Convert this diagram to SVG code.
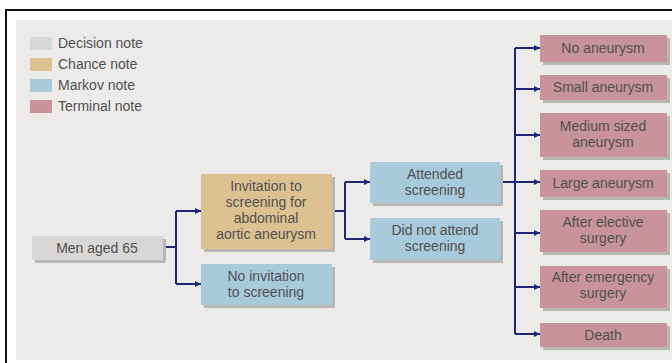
<svg xmlns="http://www.w3.org/2000/svg" width="672" height="363" viewBox="0 0 672 363">
<defs>
<style>
text{font-family:"Liberation Sans",Arial,sans-serif;font-size:14px;fill:#505050}
.c{text-anchor:middle}
.sh{fill:#b9b6b6}
.dec{fill:#d9d6d6}
.cha{fill:#dcc290}
.mar{fill:#a8cadb}
.ter{fill:#c8939c}
.ln{fill:none;stroke:#1f2676;stroke-width:2}
</style>
<marker id="ah" viewBox="0 0 10 10" refX="10" refY="5" markerWidth="8" markerHeight="6" markerUnits="userSpaceOnUse" orient="auto">
<path d="M0,0 L10,5 L0,10 z" fill="#1f2676"/>
</marker>
</defs>
<rect x="0" y="0" width="672" height="363" fill="#ffffff"/>
<path d="M6,363 V10 H672" fill="none" stroke="#111" stroke-width="2"/>
<rect x="16" y="20" width="656" height="340" fill="#edeaea"/>

<g id="legend">
<rect x="30" y="37" width="22" height="13" class="dec"/>
<text x="58" y="48">Decision note</text>
<rect x="30" y="58" width="22" height="13" class="cha"/>
<text x="58" y="69">Chance note</text>
<rect x="30" y="79" width="22" height="13" class="mar"/>
<text x="58" y="90">Markov note</text>
<rect x="30" y="100" width="22" height="13" class="ter"/>
<text x="58" y="111">Terminal note</text>
</g>

<g id="connectors">
<path class="ln" d="M163,247 H176 M176,211 V284"/>
<path class="ln" d="M176,211 H201" marker-end="url(#ah)"/>
<path class="ln" d="M176,284 H201" marker-end="url(#ah)"/>
<path class="ln" d="M332,211 H345 M345,182 V239"/>
<path class="ln" d="M345,182 H370" marker-end="url(#ah)"/>
<path class="ln" d="M345,239 H370" marker-end="url(#ah)"/>
<path class="ln" d="M500,182 H515 M515,48 V334"/>
<path class="ln" d="M515,48 H540" marker-end="url(#ah)"/>
<path class="ln" d="M515,89 H540" marker-end="url(#ah)"/>
<path class="ln" d="M515,135 H540" marker-end="url(#ah)"/>
<path class="ln" d="M515,182 H540" marker-end="url(#ah)"/>
<path class="ln" d="M515,233 H540" marker-end="url(#ah)"/>
<path class="ln" d="M515,287 H540" marker-end="url(#ah)"/>
<path class="ln" d="M515,334 H540" marker-end="url(#ah)"/>
</g>

<g id="men">
<rect x="35" y="239" width="131" height="24" class="sh"/>
<rect x="32" y="236" width="131" height="24" class="dec"/>
<text class="c" x="97" y="253">Men aged 65</text>
</g>
<g id="invitation">
<rect x="204" y="177" width="131" height="75" class="sh"/>
<rect x="201" y="174" width="131" height="75" class="cha"/>
<text class="c" x="266" y="191">Invitation to</text>
<text class="c" x="266" y="207">screening for</text>
<text class="c" x="266" y="223">abdominal</text>
<text class="c" x="266" y="239">aortic aneurysm</text>
</g>
<g id="noinvitation">
<rect x="204" y="267" width="131" height="41" class="sh"/>
<rect x="201" y="264" width="131" height="41" class="mar"/>
<text class="c" x="266" y="281">No invitation</text>
<text class="c" x="266" y="297">to screening</text>
</g>
<g id="attended">
<rect x="373" y="165" width="130" height="41" class="sh"/>
<rect x="370" y="162" width="130" height="41" class="mar"/>
<text class="c" x="435" y="179">Attended</text>
<text class="c" x="435" y="195">screening</text>
</g>
<g id="notattend">
<rect x="373" y="221" width="130" height="42" class="sh"/>
<rect x="370" y="218" width="130" height="42" class="mar"/>
<text class="c" x="435" y="235">Did not attend</text>
<text class="c" x="435" y="251">screening</text>
</g>
<g id="noaneurysm">
<rect x="543" y="38" width="127" height="27" class="sh"/>
<rect x="540" y="35" width="127" height="27" class="ter"/>
<text class="c" x="603" y="53">No aneurysm</text>
</g>
<g id="small">
<rect x="543" y="78" width="127" height="25" class="sh"/>
<rect x="540" y="75" width="127" height="25" class="ter"/>
<text class="c" x="603" y="92">Small aneurysm</text>
</g>
<g id="medium">
<rect x="543" y="116" width="127" height="44" class="sh"/>
<rect x="540" y="113" width="127" height="44" class="ter"/>
<text class="c" x="603" y="131">Medium sized</text>
<text class="c" x="603" y="147">aneurysm</text>
</g>
<g id="large">
<rect x="543" y="173" width="127" height="27" class="sh"/>
<rect x="540" y="170" width="127" height="27" class="ter"/>
<text class="c" x="603" y="188">Large aneurysm</text>
</g>
<g id="elective">
<rect x="543" y="213" width="127" height="42" class="sh"/>
<rect x="540" y="210" width="127" height="42" class="ter"/>
<text class="c" x="603" y="227">After elective</text>
<text class="c" x="603" y="243">surgery</text>
</g>
<g id="emergency">
<rect x="543" y="269" width="127" height="42" class="sh"/>
<rect x="540" y="266" width="127" height="42" class="ter"/>
<text class="c" x="603" y="282">After emergency</text>
<text class="c" x="603" y="298">surgery</text>
</g>
<g id="death">
<rect x="543" y="326" width="127" height="24" class="sh"/>
<rect x="540" y="323" width="127" height="24" class="ter"/>
<text class="c" x="603" y="340">Death</text>
</g>
</svg>
